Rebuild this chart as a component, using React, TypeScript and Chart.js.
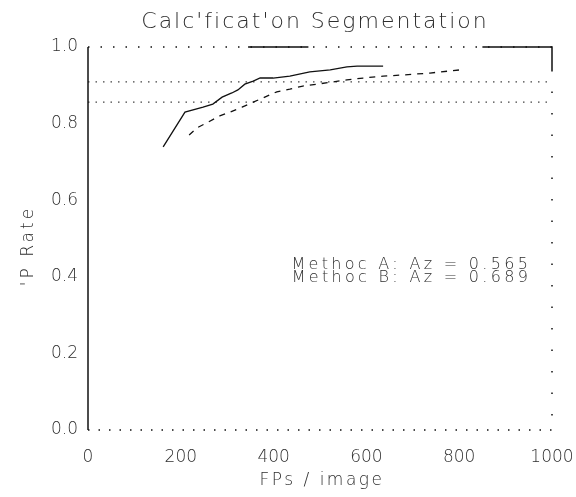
import { useEffect, useRef } from "react";
import { Chart, registerables } from "chart.js";

Chart.register(...registerables);

const chartTitle = "Calc'ficat'on Segmentation";
const xAxisTitle = "FPs / image";
const yAxisTitle = "'P Rate";
const annotationLines = ["Methoc A: Az = 0.565", "Methoc B: Az = 0.689"];

const xTickValues = [0, 200, 400, 600, 800, 1000];
const yTickValues = [0, 0.2, 0.4, 0.6, 0.8, 1.0];

const methodAFp = [162, 209, 248, 269, 289, 310, 323, 338, 356, 371, 399, 435, 478, 522, 558, 580, 636];
const methodATp = [0.739, 0.83, 0.843, 0.851, 0.869, 0.88, 0.888, 0.903, 0.911, 0.919, 0.919, 0.924, 0.935, 0.94, 0.948, 0.95, 0.95];

const methodBFp = [218, 235, 259, 284, 306, 332, 356, 381, 407, 435, 463, 494, 528, 558, 593, 636, 679, 737, 800];
const methodBTp = [0.77, 0.789, 0.804, 0.82, 0.83, 0.843, 0.856, 0.869, 0.883, 0.89, 0.898, 0.903, 0.909, 0.914, 0.919, 0.924, 0.927, 0.932, 0.94];

const refLevels = [0.909, 0.856];
const refSpan = [0, 1000];

const FONT = "'DejaVu Sans', sans-serif";
const TEXT = "#2e2e2e";

function spacedText(ctx: any, text: string, x: number, y: number, spacing: number) {
  ctx.letterSpacing = spacing + "px";
  ctx.fillText(text, x, y);
  ctx.letterSpacing = "0px";
}

const noPad = (s: any) => {
  s.paddingLeft = 0;
  s.paddingRight = 0;
  s.paddingTop = 0;
  s.paddingBottom = 0;
};

const framePlugin = {
  id: "framePlugin",
  afterDatasetsDraw(chart: any) {
    const { ctx, chartArea: a } = chart;
    const xs = chart.scales.x;
    const ys = chart.scales.y;
    ctx.save();
    ctx.strokeStyle = "#111";
    ctx.lineWidth = 1.5;
    ctx.beginPath();
    ctx.moveTo(a.left, a.top);
    ctx.lineTo(a.left, a.bottom);
    ctx.stroke();
    ctx.setLineDash([1.5, 9]);
    ctx.beginPath();
    ctx.moveTo(a.left, a.bottom);
    ctx.lineTo(a.right, a.bottom);
    ctx.stroke();
    ctx.setLineDash([1.5, 11]);
    ctx.beginPath();
    ctx.moveTo(a.left, a.top);
    ctx.lineTo(a.right, a.top);
    ctx.stroke();
    ctx.setLineDash([]);
    ctx.beginPath();
    ctx.moveTo(xs.getPixelForValue(345), a.top);
    ctx.lineTo(xs.getPixelForValue(475), a.top);
    ctx.moveTo(xs.getPixelForValue(850), a.top);
    ctx.lineTo(a.right, a.top);
    ctx.lineTo(a.right, ys.getPixelForValue(0.94));
    ctx.stroke();
    ctx.setLineDash([1.5, 20]);
    ctx.beginPath();
    ctx.moveTo(a.right, ys.getPixelForValue(0.94));
    ctx.lineTo(a.right, a.bottom);
    ctx.stroke();
    ctx.restore();
  },
  afterDraw(chart: any) {
    const { ctx } = chart;
    const xs = chart.scales.x;
    const ys = chart.scales.y;
    ctx.save();
    ctx.fillStyle = TEXT;
    ctx.textBaseline = "middle";
    ctx.textAlign = "center";
    ctx.font = `200 22px ${FONT}`;
    spacedText(ctx, chartTitle, 315, 22, 2);
    ctx.font = `200 17px ${FONT}`;
    spacedText(ctx, xAxisTitle, 322, 481, 2.5);
    ctx.save();
    ctx.translate(29, 246);
    ctx.rotate(-Math.PI / 2);
    spacedText(ctx, yAxisTitle, 0, 0, 3);
    ctx.restore();
    ctx.textAlign = "right";
    ctx.font = `200 16px ${FONT}`;
    const ax = xs.getPixelForValue(955);
    const ay = ys.getPixelForValue(0.43);
    annotationLines.forEach((t, i) => spacedText(ctx, t, ax, ay + i * 13, 3.3));
    ctx.restore();
  },
};

export default function App() {
  const ref = useRef<HTMLCanvasElement | null>(null);
  useEffect(() => {
    if (!ref.current) return;
    const toPts = (xs: number[], ys: number[]) => xs.map((x, i) => ({ x, y: ys[i] }));
    const chart = new Chart(ref.current, {
      type: "line",
      data: {
        datasets: [
          {
            label: "Method A",
            data: toPts(methodAFp, methodATp),
            borderColor: "#111",
            borderWidth: 1.3,
            pointRadius: 0,
            tension: 0,
          },
          {
            label: "Method B",
            data: toPts(methodBFp, methodBTp),
            borderColor: "#111",
            borderWidth: 1.3,
            borderDash: [6, 6],
            pointRadius: 0,
            tension: 0,
          },
          ...refLevels.map((lv, i) => ({
            label: "ref" + i,
            data: refSpan.map((x) => ({ x, y: lv })),
            borderColor: "#444",
            borderWidth: 1.3,
            borderDash: [1.5, 6],
            pointRadius: 0,
            tension: 0,
          })),
        ],
      },
      options: {
        animation: false,
        responsive: false,
        maintainAspectRatio: false,
        layout: { padding: 0 },
        plugins: { legend: { display: false }, tooltip: { enabled: false } },
        scales: {
          x: {
            type: "linear",
            position: "bottom",
            min: 0,
            max: 1000,
            afterBuildTicks: (s: any) => {
              s.ticks = xTickValues.map((v) => ({ value: v }));
            },
            afterFit: (s: any) => {
              s.height = 67;
              noPad(s);
            },
            ticks: {
              font: { family: FONT, size: 17, weight: "200" },
              color: TEXT,
              padding: 17,
              maxRotation: 0,
              autoSkip: false,
              callback: (v: any) => String(v),
            },
            grid: { display: false, drawTicks: false },
            border: { display: false },
          },
          x2: {
            type: "linear",
            position: "top",
            min: 0,
            max: 1000,
            afterFit: (s: any) => {
              s.height = 47;
              noPad(s);
            },
            ticks: { display: false },
            grid: { display: false, drawTicks: false },
            border: { display: false },
          },
          y: {
            type: "linear",
            position: "left",
            min: 0,
            max: 1,
            afterBuildTicks: (s: any) => {
              s.ticks = yTickValues.map((v) => ({ value: v }));
            },
            afterFit: (s: any) => {
              s.width = 88;
              noPad(s);
            },
            ticks: {
              font: { family: FONT, size: 17, weight: "200" },
              color: TEXT,
              padding: 10,
              callback: (v: any) => Number(v).toFixed(1),
            },
            grid: { display: false, drawTicks: false },
            border: { display: false },
          },
          y2: {
            type: "linear",
            position: "right",
            min: 0,
            max: 1,
            afterFit: (s: any) => {
              s.width = 24;
              noPad(s);
            },
            ticks: { display: false },
            grid: { display: false, drawTicks: false },
            border: { display: false },
          },
        },
      },
      plugins: [framePlugin],
    });
    return () => chart.destroy();
  }, []);
  return (
    <div style={{ position: "fixed", left: 0, top: 0, width: 576, height: 497, background: "#fff" }}>
      <canvas ref={ref} width={576} height={497} style={{ width: 576, height: 497 }} />
    </div>
  );
}
